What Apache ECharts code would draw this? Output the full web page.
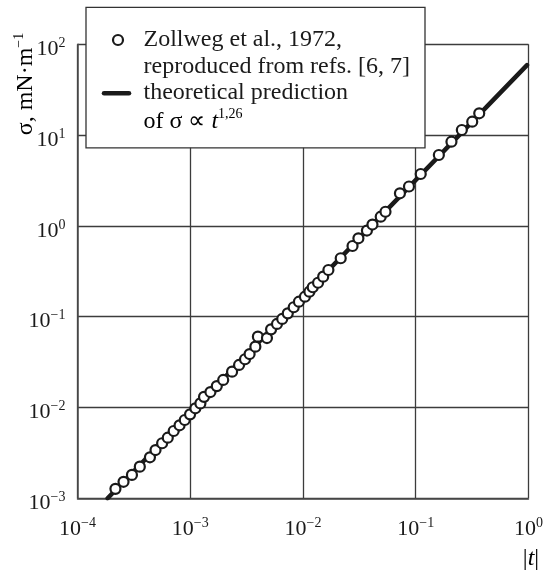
<!DOCTYPE html>
<html>
<head>
<meta charset="utf-8">
<script src="https://cdn.jsdelivr.net/npm/echarts@6/dist/echarts.min.js"></script>
<style>
  html, body { margin: 0; padding: 0; background: #fff; }
  #chart { width: 546px; height: 573px; }
</style>
</head>
<body>
<div id="chart"></div>
<script>
// Surface tension near the critical point: Zollweg et al. (1972) measurements
const tValues = [
  2.17e-4, 2.56e-4, 3.04e-4, 3.57e-4, 4.39e-4, 4.92e-4, 5.63e-4, 6.32e-4,
  7.13e-4, 8.04e-4, 8.94e-4, 9.96e-4, 1.11e-3, 1.23e-3, 1.325e-3, 1.51e-3,
  1.72e-3, 1.96e-3, 2.35e-3, 2.71e-3, 3.06e-3, 3.36e-3, 3.78e-3, 3.98e-3,
  4.79e-3, 5.21e-3, 5.88e-3, 6.54e-3, 7.33e-3, 8.27e-3, 9.20e-3, 1.04e-2,
  1.14e-2, 1.22e-2, 1.36e-2, 1.51e-2, 1.68e-2, 2.16e-2, 2.75e-2, 3.10e-2,
  3.69e-2, 4.13e-2, 4.89e-2, 5.39e-2, 7.24e-2, 8.71e-2, 0.1107, 0.1603,
  0.2073, 0.2563, 0.3169, 0.3656
];
const sigmaValues = [
  1.27e-3, 1.52e-3, 1.81e-3, 2.23e-3, 2.83e-3, 3.40e-3, 4.04e-3, 4.65e-3,
  5.51e-3, 6.37e-3, 7.28e-3, 8.41e-3, 9.80e-3, 1.11e-2, 1.31e-2, 1.48e-2,
  1.72e-2, 2.01e-2, 2.48e-2, 2.94e-2, 3.40e-2, 3.88e-2, 4.68e-2, 6.03e-2,
  5.82e-2, 7.26e-2, 8.32e-2, 9.44e-2, 0.1089, 0.127, 0.1463, 0.166,
  0.1884, 0.211, 0.2366, 0.276, 0.327, 0.44, 0.601, 0.73,
  0.889, 1.035, 1.262, 1.432, 2.286, 2.716, 3.73, 6.04,
  8.46, 11.38, 14.05, 17.38
];

// Power-law prediction sigma ~ t^1.26, given by its two end points
const fitT = [1.85e-4, 0.97];
const fitSigma = [1.0e-3, 59];

// Decade tick values
const xTicks = [1e-4, 1e-3, 1e-2, 1e-1, 1];
const yTicks = [1e-3, 1e-2, 1e-1, 1, 10, 100];

const SERIF = '"Liberation Serif", "Times New Roman", serif';
const INK = '#1a1a1a';

function powLabel(v) {
  const e = Math.round(Math.log10(v));
  const s = e < 0 ? '\u2212' + (-e) : String(e);
  return '{b|10}{s|' + s + '}';
}
const tickRich = {
  b: { fontFamily: SERIF, fontSize: 22, color: INK, lineHeight: 26 },
  s: { fontFamily: SERIF, fontSize: 14, color: INK, verticalAlign: 'top', lineHeight: 14 }
};

const chart = echarts.init(document.getElementById('chart'), null, { renderer: 'canvas' });

chart.setOption({
  backgroundColor: '#ffffff',
  animation: false,
  grid: { left: 77.5, top: 44.3, width: 451.5, height: 454, containLabel: false },
  xAxis: {
    type: 'log',
    logBase: 10,
    min: xTicks[0],
    max: xTicks[xTicks.length - 1],
    axisLine: { show: true, lineStyle: { color: '#4a4a4a', width: 1.5 } },
    axisTick: { show: false },
    minorTick: { show: false },
    splitLine: { show: true, lineStyle: { color: '#3c3c3c', width: 1.3 } },
    axisLabel: { formatter: powLabel, rich: tickRich, margin: 18 }
  },
  yAxis: {
    type: 'log',
    logBase: 10,
    min: yTicks[0],
    max: yTicks[yTicks.length - 1],
    axisLine: { show: true, lineStyle: { color: '#4a4a4a', width: 1.5 } },
    axisTick: { show: false },
    minorTick: { show: false },
    splitLine: { show: true, lineStyle: { color: '#3c3c3c', width: 1.3 } },
    axisLabel: { formatter: powLabel, rich: tickRich, margin: 12, padding: [10, 0, 0, 0] }
  },
  series: [
    {
      name: 'theoretical prediction',
      type: 'line',
      data: fitT.map((t, i) => [t, fitSigma[i]]),
      symbol: 'none',
      lineStyle: { color: INK, width: 4.5, cap: 'round' },
      z: 3
    },
    {
      name: 'Zollweg et al., 1972',
      type: 'scatter',
      data: tValues.map((t, i) => [t, sigmaValues[i]]),
      symbol: 'circle',
      symbolSize: 10,
      itemStyle: { color: '#ffffff', borderColor: INK, borderWidth: 2.2, opacity: 1 },
      z: 4
    }
  ],
  graphic: [
    // legend frame
    {
      type: 'rect', z: 100,
      shape: { x: 86, y: 7.3, width: 339, height: 140.5 },
      style: { fill: '#ffffff', stroke: '#333333', lineWidth: 1.3 }
    },
    {
      type: 'circle', z: 101,
      shape: { cx: 118, cy: 40, r: 5 },
      style: { fill: '#ffffff', stroke: INK, lineWidth: 2.2 }
    },
    {
      type: 'line', z: 101,
      shape: { x1: 104, y1: 93.3, x2: 129, y2: 93.3 },
      style: { stroke: INK, lineWidth: 4.5, lineCap: 'round' }
    },
    {
      type: 'text', z: 101, x: 143.5, y: 40,
      style: { text: 'Zollweg et al., 1972,', font: '24px ' + SERIF, fill: INK, align: 'left', verticalAlign: 'middle' }
    },
    {
      type: 'text', z: 101, x: 143.5, y: 66.5,
      style: { text: 'reproduced from refs. [6, 7]', font: '24px ' + SERIF, fill: INK, align: 'left', verticalAlign: 'middle' }
    },
    {
      type: 'text', z: 101, x: 143.5, y: 93,
      style: { text: 'theoretical prediction', font: '24px ' + SERIF, fill: INK, align: 'left', verticalAlign: 'middle' }
    },
    {
      type: 'text', z: 101, x: 143.5, y: 121.5,
      style: {
        text: '{r|of σ ∝ }{i|t}{s|1,26}',
        align: 'left', verticalAlign: 'middle',
        rich: {
          r: { fontFamily: SERIF, fontSize: 24, color: INK, lineHeight: 28 },
          i: { fontFamily: SERIF, fontSize: 24, fontStyle: 'italic', color: INK, lineHeight: 28 },
          s: { fontFamily: SERIF, fontSize: 14, color: INK, verticalAlign: 'top', lineHeight: 14 }
        }
      }
    },
    // axis titles
    {
      type: 'text', z: 50, x: 26, y: 84, rotation: Math.PI / 2,
      style: {
        text: '{r|σ, mN·m}{s|\u22121}',
        align: 'center', verticalAlign: 'middle',
        rich: {
          r: { fontFamily: SERIF, fontSize: 24, color: INK, lineHeight: 28 },
          s: { fontFamily: SERIF, fontSize: 14, color: INK, verticalAlign: 'top', lineHeight: 14 }
        }
      }
    },
    {
      type: 'text', z: 50, x: 531, y: 559,
      style: {
        text: '{r||}{i|t}{r||}',
        align: 'center', verticalAlign: 'middle',
        rich: {
          r: { fontFamily: SERIF, fontSize: 24, color: INK, lineHeight: 28 },
          i: { fontFamily: SERIF, fontSize: 24, fontStyle: 'italic', color: INK, lineHeight: 28 }
        }
      }
    }
  ]
});
</script>
</body>
</html>
